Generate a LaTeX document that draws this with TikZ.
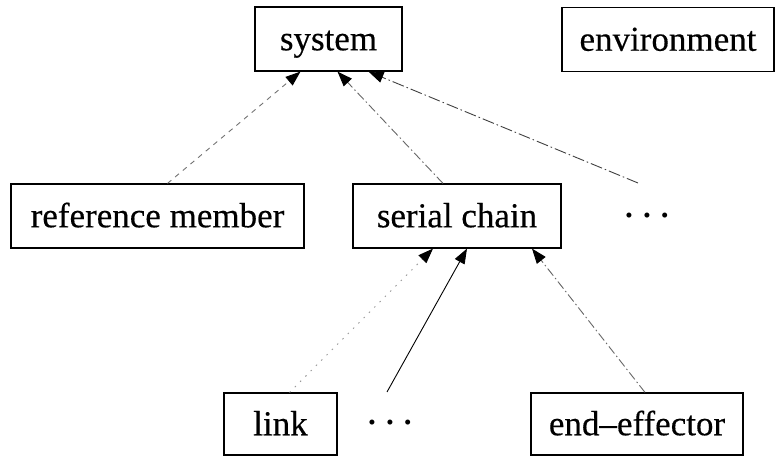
\documentclass[tikz,border=0pt]{standalone}
\usepackage{fontspec}
\setmainfont{Liberation Serif}
\newfontfamily\labelfont{Liberation Serif}[Ligatures=TeX, BoldFont=Liberation Serif, BoldFeatures={FakeBold=0.35}]
\usetikzlibrary{arrows.meta}
\newcommand{\threedots}{{\fontsize{21}{21}\selectfont •\hspace{10.5pt}•\hspace{10.5pt}•}}
\begin{document}
\begin{tikzpicture}[x=1pt,y=1pt,
  box/.style={draw=black, line width=1.2pt, rectangle, inner sep=0pt,
    minimum height=64pt, text height=30pt, text depth=7.5pt,
    font=\labelfont\bfseries\fontsize{35}{40}\selectfont},
  more/.style={inner sep=0pt},
  rel/.style={line width=0.9pt, -{Triangle[length=15pt,width=11pt,color=black]}},
  faintdash/.style={draw=black!55, dash pattern=on 5pt off 5pt},
  dashdot/.style={draw=black!60, dash pattern=on 9pt off 3pt on 1.5pt off 3pt},
  darkdashdot/.style={draw=black!75, dash pattern=on 12pt off 3pt on 1.5pt off 3pt},
  faintdot/.style={draw=black!40, dash pattern=on 1.5pt off 6pt},
]
\useasboundingbox (0,0) rectangle (780,456);

% top row
\node[box, minimum width=147pt] (system) at (328.5,417) {system};
\node[box, minimum width=212pt] (env) at (668,416.5) {environment};

% middle row
\node[box, minimum width=293pt] (refm) at (157.5,240) {reference member};
\node[box, minimum width=208pt] (serial) at (457,240) {serial chain};
\node[more] (moreA) at (647,238) {\threedots};
\coordinate (moreAtop) at (638,273);

% bottom row
\node[box, minimum width=113pt, minimum height=62pt] (link) at (280.5,32) {link};
\node[more] (moreB) at (390,31) {\threedots};
\coordinate (moreBtop) at (387,64);
\node[box, minimum width=212pt, minimum height=62pt] (endeff) at (637,32) {end–effector};

% parts of the system
\draw[rel, faintdash] ([xshift=10pt]refm.north) -- ([xshift=-28pt]system.south);
\draw[rel, dashdot] ([xshift=-14pt]serial.north) -- ([xshift=9pt]system.south);
\draw[rel, darkdashdot] (moreAtop) -- ([xshift=40pt]system.south);

% parts of the serial chain
\draw[rel, faintdot] ([xshift=9pt]link.north) -- ([xshift=-24pt]serial.south);
\draw[rel, draw=black] (moreBtop) -- ([xshift=10pt]serial.south);
\draw[rel, dashdot] ([xshift=8pt]endeff.north) -- ([xshift=75pt]serial.south);
\end{tikzpicture}
\end{document}
